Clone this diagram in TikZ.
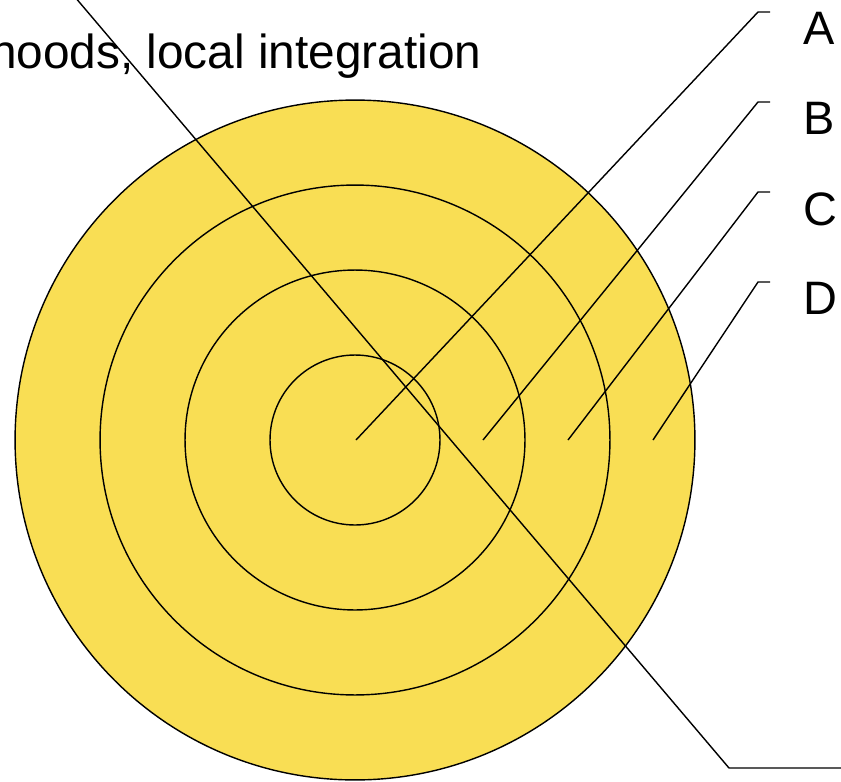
\documentclass[tikz,border=0pt]{standalone}
\usepackage{fontspec}
\setmainfont{Liberation Sans}
\usepackage{tikz}
\usepackage{xcolor}
\usetikzlibrary{positioning}
\definecolor{ringfill}{RGB}{249,222,84}
\tikzset{
  ring/.style={
    draw, circle, fill=ringfill,
    inner sep=0pt, outer sep=0pt, line width=0.8pt
  },
  lbl/.style={
    font=\fontsize{26.7}{32}\selectfont,
    inner xsep=0.66cm, inner ysep=0pt, anchor=north west
  },
  leader/.style={draw, line width=0.8pt, line join=miter},
}

\begin{document}
\begin{tikzpicture}[x=0.02cm, y=-0.02cm]
  \useasboundingbox (0,0) rectangle (841,781);
  \clip (0,0) rectangle (841,781);

  % rings, outside in
  \node[ring, minimum size=13.6cm] (ring4) at (355,440) {};
  \node[ring, minimum size=10.2cm] (ring3) at (355,440) {};
  \node[ring, minimum size=6.8cm]  (ring2) at (355,440) {};
  \node[ring, minimum size=3.4cm]  (ring1) at (355,440) {};

  \node[font=\fontsize{27.2}{32}\selectfont, inner sep=0pt, anchor=base east]
    (title) at (482,68) {neighborhoods, local integration};

  % labels
  \node[lbl] (lblA) at (770,12)  {A};
  \node[lbl] (lblB) at (770,102) {B};
  \node[lbl] (lblC) at (770,192) {C};
  \node[lbl] (lblD) at (770,282) {D};

  \coordinate (ptA) at (356,440);
  \coordinate (ptB) at (483,440);
  \coordinate (ptC) at (568,440);
  \coordinate (ptD) at (653,440);
  \coordinate (kneeA) at (758,12);
  \coordinate (kneeB) at (758,102);
  \coordinate (kneeC) at (758,192);
  \coordinate (kneeD) at (758,282);

  \draw[leader] (ptA) -- (kneeA) -- (lblA.north west);
  \draw[leader] (ptB) -- (kneeB) -- (lblB.north west);
  \draw[leader] (ptC) -- (kneeC) -- (lblC.north west);
  \draw[leader] (ptD) -- (kneeD) -- (lblD.north west);

  % long pointer
  \coordinate (topend) at (69,-10);
  \coordinate (kneeE) at (729,768);
  \coordinate (rightend) at (845,768);
  \draw[leader] (topend) -- (kneeE) -- (rightend);
\end{tikzpicture}
\end{document}
